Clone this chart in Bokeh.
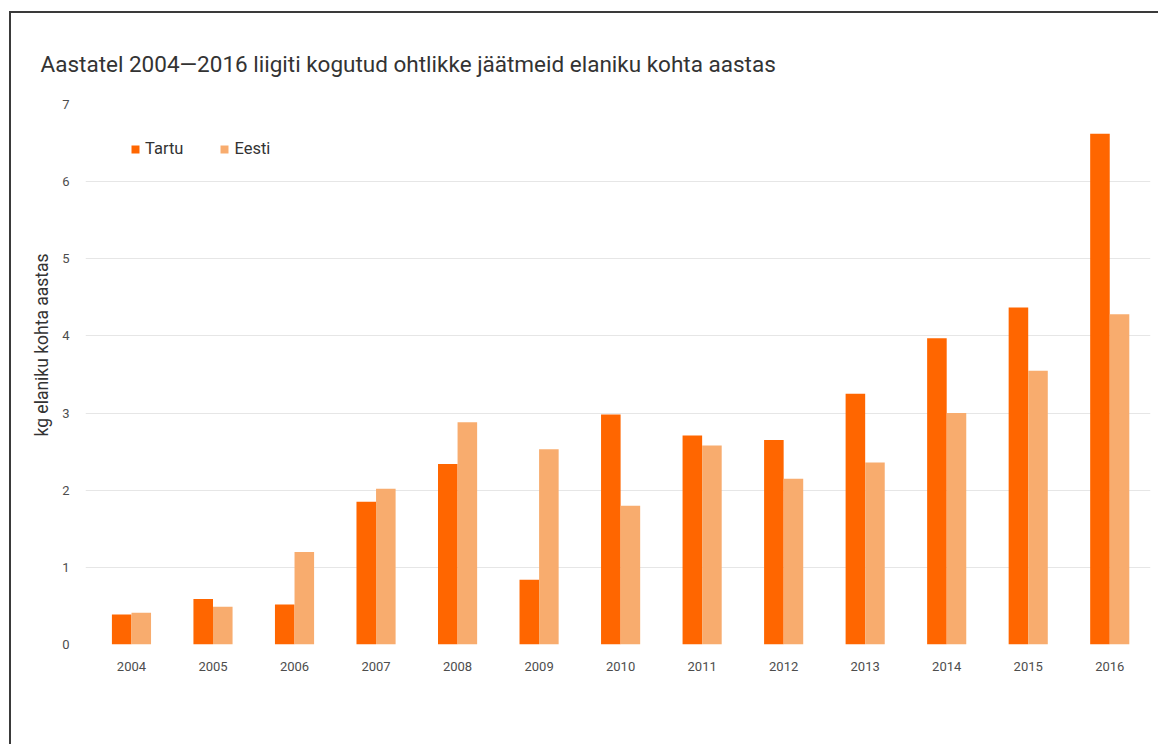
from bokeh.plotting import figure
from bokeh.models import (ColumnDataSource, Legend, LegendItem, Title, FixedTicker, Range1d,
                          InlineStyleSheet)
from bokeh.transform import dodge
from bokeh.embed import file_html
from bokeh.resources import INLINE

years = [2004, 2005, 2006, 2007, 2008, 2009, 2010, 2011, 2012, 2013, 2014, 2015, 2016]
tartu = [0.39, 0.59, 0.52, 1.85, 2.34, 0.84, 2.98, 2.71, 2.65, 3.25, 3.97, 4.37, 6.62]
eesti = [0.41, 0.49, 1.20, 2.02, 2.88, 2.53, 1.80, 2.58, 2.15, 2.36, 3.00, 3.55, 4.28]
y_ticks = [0, 1, 2, 3, 4, 5, 6, 7]
series_names = ["Tartu", "Eesti"]
title_text = "Aastatel 2004\u20142016  liigiti kogutud ohtlikke jäätmeid elaniku kohta aastas"
y_label = "kg elaniku kohta aastas"

FONT = "Roboto"
C_TARTU = "#FF6600"
C_EESTI = "#F8AC6E"

src = ColumnDataSource(dict(year=years, tartu=tartu, eesti=eesti))

border_css = InlineStyleSheet(css="""
:host::after {
  content: "";
  position: absolute;
  left: 9px; top: 11px; right: -20px; bottom: -20px;
  border-left: 2px solid #3a3a3a;
  border-top: 2px solid #3a3a3a;
  pointer-events: none;
  z-index: 100;
}
""")

p = figure(width=1156, height=742, output_backend="svg", toolbar_location=None,
           x_range=Range1d(2003.436, 2016.5), y_range=Range1d(0, 7),
           min_border_left=85, min_border_right=6, min_border_top=104, min_border_bottom=98,
           stylesheets=[border_css])
p.outline_line_color = None
p.background_fill_color = "white"
p.border_fill_color = "white"

r1 = p.vbar(x=dodge("year", -0.12, range=p.x_range), top="tartu", width=0.24, source=src,
            fill_color=C_TARTU, line_color=None)
r2 = p.vbar(x=dodge("year", 0.12, range=p.x_range), top="eesti", width=0.24, source=src,
            fill_color=C_EESTI, line_color=None)

p.xaxis.ticker = FixedTicker(ticks=years)
p.yaxis.ticker = FixedTicker(ticks=y_ticks)
for ax in (p.xaxis, p.yaxis):
    ax.axis_line_color = None
    ax.major_tick_line_color = None
    ax.minor_tick_line_color = None
    ax.major_tick_out = 0
    ax.minor_tick_out = 0
    ax.major_label_text_font = FONT
    ax.major_label_text_color = "#4d4d4d"
p.xaxis.major_label_text_font_size = "13px"
p.yaxis.major_label_text_font_size = "13px"
p.xaxis.major_label_standoff = 17
p.yaxis.major_label_standoff = 16

p.xgrid.grid_line_color = None
p.ygrid.grid_line_color = "#e6e6e6"
p.ygrid.grid_line_width = 1

legend = Legend(items=[LegendItem(label=series_names[0], renderers=[r1]),
                       LegendItem(label=series_names[1], renderers=[r2])],
                orientation="horizontal", location=(45, 486))
legend.background_fill_alpha = 0
legend.border_line_color = None
legend.padding = 0
legend.margin = 0
legend.glyph_width = 10
legend.glyph_height = 10
legend.label_standoff = 5
legend.spacing = 36
legend.label_text_font = FONT
legend.label_text_font_size = "16.5px"
legend.label_text_color = "#333333"
p.add_layout(legend)

p.title = Title(text=title_text, align="left", offset=-45, standoff=55,
                text_font=FONT, text_font_size="22.5px", text_font_style="normal",
                text_color="#333333")

p.add_layout(Title(text=y_label, align="left", offset=208, standoff=16,
                   text_font=FONT, text_font_size="17.5px", text_font_style="normal",
                   text_color="#333333"), "left")

open("out.html", "w").write(file_html(p, INLINE))
